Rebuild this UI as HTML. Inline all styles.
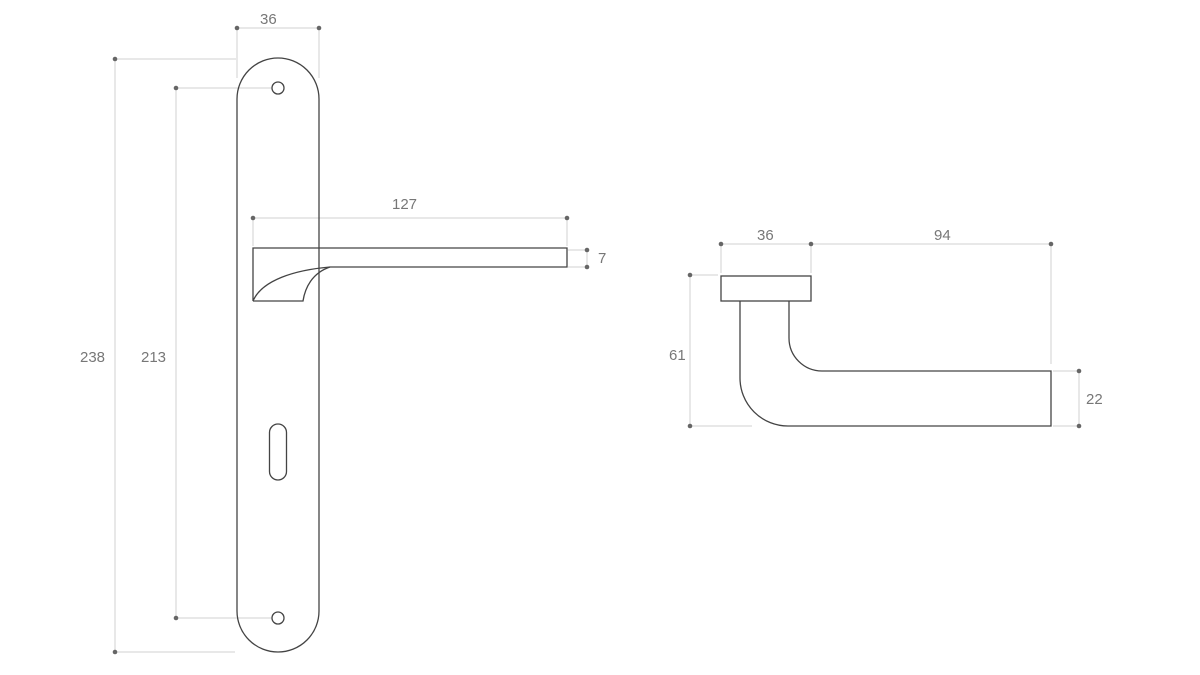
<!DOCTYPE html>
<html><head><meta charset="utf-8"><style>
html,body{margin:0;padding:0;background:#fff;}
svg{display:block;}
text{font-family:"Liberation Sans",sans-serif;font-size:15px;fill:#777;}
</style></head><body>
<svg width="1200" height="675" viewBox="0 0 1200 675" xmlns="http://www.w3.org/2000/svg">
<g stroke="#d0d0d0" stroke-width="1" fill="none">
  <!-- top 36 -->
  <line x1="237" y1="28" x2="319" y2="28"/>
  <line x1="237" y1="28" x2="237" y2="78"/>
  <line x1="319" y1="28" x2="319" y2="78"/>
  <!-- 238 -->
  <line x1="115" y1="59" x2="115" y2="652"/>
  <line x1="115" y1="59" x2="236" y2="59"/>
  <line x1="115" y1="652" x2="235" y2="652"/>
  <!-- 213 -->
  <line x1="176" y1="88" x2="176" y2="618"/>
  <line x1="176" y1="88" x2="272" y2="88"/>
  <line x1="176" y1="618" x2="272" y2="618"/>
  <!-- 127 -->
  <line x1="253" y1="218" x2="567" y2="218"/>
  <line x1="253" y1="218" x2="253" y2="246"/>
  <line x1="567" y1="218" x2="567" y2="246"/>
  <!-- 7 -->
  <line x1="587" y1="250" x2="587" y2="267"/>
  <line x1="568" y1="250" x2="587" y2="250"/>
  <line x1="568" y1="267" x2="587" y2="267"/>
  <!-- right 36 / 94 -->
  <line x1="721" y1="244" x2="1051" y2="244"/>
  <line x1="721" y1="244" x2="721" y2="273"/>
  <line x1="811" y1="244" x2="811" y2="273"/>
  <line x1="1051" y1="244" x2="1051" y2="364"/>
  <!-- 61 -->
  <line x1="690" y1="275" x2="690" y2="426"/>
  <line x1="690" y1="275" x2="718" y2="275"/>
  <line x1="690" y1="426" x2="752" y2="426"/>
  <!-- 22 -->
  <line x1="1079" y1="371" x2="1079" y2="426"/>
  <line x1="1053" y1="371" x2="1079" y2="371"/>
  <line x1="1053" y1="426" x2="1079" y2="426"/>
</g>
<g fill="#666">
  <circle cx="237" cy="28" r="2.3"/><circle cx="319" cy="28" r="2.3"/>
  <circle cx="115" cy="59" r="2.3"/><circle cx="115" cy="652" r="2.3"/>
  <circle cx="176" cy="88" r="2.3"/><circle cx="176" cy="618" r="2.3"/>
  <circle cx="253" cy="218" r="2.3"/><circle cx="567" cy="218" r="2.3"/>
  <circle cx="587" cy="250" r="2.3"/><circle cx="587" cy="267" r="2.3"/>
  <circle cx="721" cy="244" r="2.3"/><circle cx="811" cy="244" r="2.3"/><circle cx="1051" cy="244" r="2.3"/>
  <circle cx="690" cy="275" r="2.3"/><circle cx="690" cy="426" r="2.3"/>
  <circle cx="1079" cy="371" r="2.3"/><circle cx="1079" cy="426" r="2.3"/>
</g>
<g stroke="#444" stroke-width="1.3" fill="none">
  <!-- plate -->
  <path d="M237,99 A41,41 0 0 1 319,99 L319,611 A41,41 0 0 1 237,611 Z"/>
  <circle cx="278" cy="88" r="6"/>
  <circle cx="278" cy="618" r="6"/>
  <rect x="269.5" y="424" width="17" height="56" rx="8.5"/>
  <!-- lever side -->
  <path d="M253,248 L567,248 L567,267 L330,267 C295,270 262,280 253,301 L253,248 Z"/>
  <path d="M330,267 C312,273 305,288 303,301 L253,301"/>
  <!-- right view -->
  <rect x="721" y="276" width="90" height="25"/>
  <path d="M740,301 L740,378 A48,48 0 0 0 788,426 L1051,426 L1051,371 L822,371 A33,33 0 0 1 789,338 L789,301"/>
</g>
<text x="260" y="24">36</text>
<text x="80" y="362">238</text>
<text x="141" y="362">213</text>
<text x="392" y="209">127</text>
<text x="598" y="263">7</text>
<text x="757" y="240">36</text>
<text x="934" y="240">94</text>
<text x="669" y="360">61</text>
<text x="1086" y="404">22</text>
</svg>
</body></html>
